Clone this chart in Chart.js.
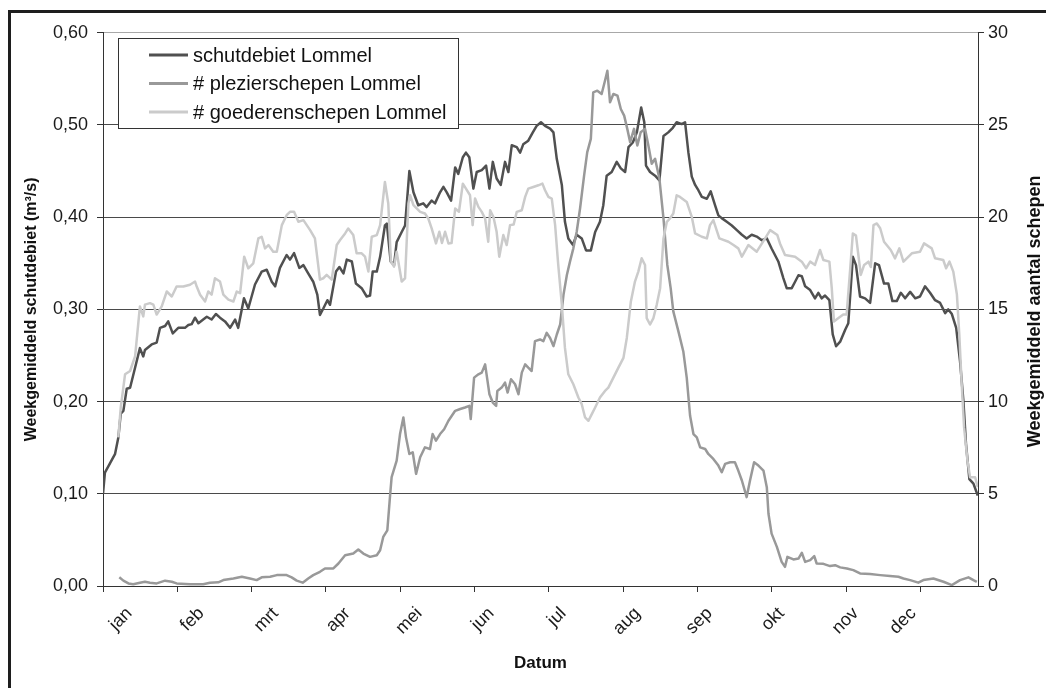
<!DOCTYPE html>
<html>
<head>
<meta charset="utf-8">
<script src="https://cdn.jsdelivr.net/npm/chart.js@4/dist/chart.umd.min.js"></script>
<style>
  html, body { margin: 0; padding: 0; background: #fff; }
  #kader {
    position: absolute; left: 8px; top: 10px;
    width: 1035px; height: 675px;
    border-top: 3px solid #1e1e1e; border-left: 3px solid #1e1e1e;
  }
  #kader canvas { display: block; }
</style>
</head>
<body>
<div id="kader"><canvas id="grafiek" width="1035" height="675"></canvas></div>
<script>
// Weekgemiddelden Lommel: schutdebiet (links) en aantal schepen (rechts)
// x-as = dag van het jaar (0..365)

const maanden = ['jan', 'feb', 'mrt', 'apr', 'mei', 'jun', 'jul', 'aug', 'sep', 'okt', 'nov', 'dec'];
const maandGrens = [0, 31, 62, 93, 124, 155, 186, 217, 248, 279, 310, 341];   // tick marks
const maandLabelDag = [11, 41, 72, 102, 132, 162, 192, 223, 253, 283, 314, 338];
const linksTicks = [0, 0.1, 0.2, 0.3, 0.4, 0.5, 0.6];
const rechtsTicks = [0, 5, 10, 15, 20, 25, 30];

// schutdebiet (m³/s)
const schutDag = [0,0.8,2.9,5.0,6.4,7.4,8.5,9.9,11.3,13.4,
  15.4,16.8,17.5,20.3,22.4,23.8,25.9,27.2,29.1,31.4,
  34.2,35.6,37.0,38.4,39.8,41.8,43.3,45.3,47.1,48.8,
  50.9,53.0,55.1,56.4,58.8,60.6,63.4,66.2,68.3,70.4,
  71.8,73.8,76.6,78.0,79.7,81.9,83.6,85.6,87.7,89.4,
  90.5,91.9,93.6,94.7,97.2,98.6,100.3,101.7,103.8,105.5,
  107.9,110.0,111.4,112.5,114.2,115.6,117.6,118.4,120.0,121.4,
  122.5,124.6,126.0,127.8,129.5,131.5,133.6,135.0,137.1,138.5,
  140.6,142.0,143.4,145.2,146.9,148.2,150.1,151.4,152.8,154.5,
  155.9,158.0,159.8,161.2,162.6,164.2,165.9,167.7,169.1,170.5,
  172.6,174.0,175.3,177.4,179.3,180.9,182.7,184.4,186.5,187.9,
  189.3,191.4,192.7,194.1,196.0,197.6,199.7,201.5,203.5,205.3,
  207.3,208.7,210.1,212.2,214.3,216.0,217.8,219.2,221.0,222.7,
  224.5,225.8,226.5,228.2,230.3,232.1,233.8,235.8,237.7,239.3,
  241.4,242.8,244.2,245.6,247.0,248.4,249.8,251.9,253.5,255.3,
  256.7,258.1,260.2,262.3,264.4,266.5,268.5,270.6,272.7,274.8,
  276.9,278.9,281.7,283.8,285.2,287.3,288.7,290.1,291.5,292.9,
  295.0,297.0,298.4,299.8,301.2,303.0,304.4,305.8,307.5,309.6,
  310.9,312.8,314.1,315.8,317.9,320.0,322.1,323.7,325.8,327.6,
  329.3,331.1,332.8,334.6,336.7,338.8,340.8,342.9,345.0,347.1,
  349.2,351.3,352.6,354.1,355.9,357.5,358.9,360.0,361.4,363.1,
  364.9];
const schutDebiet = [0.100,0.123,0.133,0.143,0.161,0.187,0.190,0.214,0.215,0.237,
  0.258,0.249,0.256,0.262,0.264,0.280,0.282,0.287,0.274,0.280,
  0.280,0.283,0.284,0.291,0.285,0.289,0.292,0.289,0.295,0.291,
  0.287,0.280,0.289,0.280,0.312,0.301,0.327,0.341,0.343,0.330,
  0.325,0.345,0.359,0.354,0.361,0.345,0.348,0.339,0.330,0.316,
  0.294,0.301,0.310,0.305,0.341,0.346,0.339,0.354,0.352,0.328,
  0.323,0.314,0.315,0.341,0.341,0.357,0.391,0.393,0.352,0.348,
  0.373,0.384,0.391,0.450,0.427,0.413,0.415,0.411,0.418,0.415,
  0.427,0.433,0.427,0.418,0.454,0.447,0.465,0.470,0.465,0.431,
  0.449,0.451,0.456,0.431,0.460,0.442,0.435,0.460,0.449,0.478,
  0.476,0.470,0.479,0.483,0.492,0.499,0.503,0.499,0.496,0.492,
  0.463,0.435,0.395,0.377,0.370,0.381,0.377,0.364,0.364,0.384,
  0.395,0.413,0.445,0.449,0.460,0.453,0.449,0.476,0.481,0.492,
  0.519,0.503,0.456,0.449,0.445,0.440,0.488,0.492,0.497,0.503,
  0.501,0.503,0.470,0.444,0.435,0.429,0.422,0.420,0.428,0.413,
  0.402,0.399,0.395,0.391,0.386,0.381,0.377,0.381,0.379,0.375,
  0.377,0.366,0.352,0.334,0.323,0.323,0.330,0.337,0.336,0.325,
  0.321,0.312,0.318,0.312,0.315,0.310,0.273,0.260,0.265,0.278,
  0.285,0.357,0.348,0.314,0.312,0.307,0.350,0.348,0.328,0.328,
  0.309,0.309,0.318,0.312,0.319,0.312,0.314,0.325,0.318,0.310,
  0.307,0.296,0.300,0.295,0.280,0.244,0.201,0.154,0.116,0.111,
  0.098];

// # plezierschepen
const plezDag = [6.8,8.5,10.6,12.6,15.4,17.5,19.6,22.4,25.9,28.7,
  30.7,36.3,41.8,44.6,48.1,50.2,54.4,57.9,61.3,64.1,
  66.2,69.7,72.5,76.6,78.7,80.8,83.3,85.6,87.7,90.5,
  92.6,96.1,98.2,101.0,104.4,106.5,108.6,111.4,114.2,115.6,
  116.9,118.6,119.7,120.4,122.5,123.9,125.3,126.4,127.8,129.2,
  130.6,132.3,134.3,136.4,137.5,138.9,140.6,142.3,144.1,146.9,
  149.0,151.0,152.8,153.4,154.8,156.6,158.0,159.4,160.0,161.2,
  162.6,164.0,164.5,166.3,167.7,168.8,170.2,171.9,173.3,174.7,
  176.1,177.4,178.8,180.2,182.3,183.7,185.1,186.5,187.9,189.3,
  190.7,192.1,193.5,194.8,196.2,197.6,199.0,200.7,202.0,203.5,
  204.5,206.2,208.0,209.4,210.4,211.5,212.9,214.6,216.0,217.4,
  218.7,219.9,221.5,222.9,224.3,226.1,227.5,228.9,230.3,232.1,
  233.8,235.4,236.8,237.9,240.0,242.1,243.5,244.9,246.3,247.7,
  249.1,251.2,252.5,254.6,256.7,258.1,259.5,261.6,263.6,265.0,
  266.5,268.5,269.9,271.6,273.4,275.5,276.9,277.6,278.9,281.1,
  283.1,284.5,285.5,288.0,290.1,291.5,292.9,295.0,296.7,297.7,
  300.5,303.3,305.4,307.5,310.3,313.0,315.8,320.0,324.2,328.3,
  331.8,333.9,336.7,340.1,342.2,346.4,350.6,354.1,357.5,361.0,
  363.1,364.5];
const plezAantal = [0.47,0.29,0.14,0.10,0.18,0.23,0.18,0.14,0.29,0.23,
  0.14,0.10,0.10,0.18,0.20,0.32,0.41,0.50,0.41,0.32,
  0.47,0.50,0.59,0.59,0.47,0.29,0.18,0.41,0.59,0.77,
  0.95,0.95,1.22,1.67,1.76,1.98,1.76,1.58,1.67,1.94,
  2.66,3.02,4.82,5.90,6.80,8.24,9.14,8.06,7.16,7.25,
  6.08,6.98,7.52,7.43,8.24,7.88,8.24,8.50,8.96,9.50,
  9.60,9.68,9.77,9.05,11.30,11.48,11.57,12.02,11.48,10.40,
  9.95,9.77,10.58,10.76,11.03,10.49,11.21,10.94,10.40,11.57,
  12.02,11.84,11.66,13.28,13.37,13.28,13.73,13.45,13.01,13.64,
  14.18,15.80,16.87,17.59,18.31,19.21,20.47,22.27,23.53,24.25,
  26.77,26.86,26.68,27.40,27.94,26.23,26.68,26.59,25.87,25.51,
  24.79,24.07,24.79,23.89,24.61,24.79,23.89,22.90,23.17,22.09,
  19.93,17.41,16.15,14.89,13.82,12.70,11.30,9.23,8.24,8.06,
  7.52,7.43,7.16,6.89,6.53,6.17,6.62,6.71,6.71,6.26,
  5.72,4.82,5.72,6.71,6.53,6.26,5.36,3.92,2.84,2.12,
  1.31,1.04,1.58,1.44,1.49,1.80,1.31,1.40,1.62,1.22,
  1.20,1.08,1.13,1.01,0.95,0.86,0.68,0.65,0.59,0.54,
  0.50,0.41,0.32,0.18,0.32,0.41,0.23,0.05,0.32,0.47,
  0.32,0.23];

// # goederenschepen
const goedDag = [6.4,7.4,9.2,11.3,13.4,15.4,16.8,17.5,19.6,21.0,
  22.4,24.5,26.6,28.7,30.7,33.5,36.3,38.4,39.1,40.5,
  42.6,43.9,45.3,46.7,48.8,50.2,52.3,54.4,55.8,57.2,
  58.9,60.6,62.7,64.8,66.2,67.6,69.0,71.0,72.5,74.6,
  76.6,78.0,79.7,81.5,83.6,86.4,88.4,90.5,91.9,93.3,
  95.4,97.5,98.9,101.0,102.3,104.4,105.8,107.9,109.3,110.7,
  112.1,114.2,115.6,117.6,119.0,120.1,121.4,122.5,124.6,126.0,
  127.4,128.1,129.5,132.3,134.3,135.7,137.1,138.9,140.3,141.4,
  142.7,144.1,145.4,146.9,148.5,150.1,151.4,153.1,154.2,155.2,
  156.6,158.0,159.4,160.7,161.5,162.9,164.2,165.3,167.0,168.4,
  169.8,171.3,172.6,174.7,176.1,177.4,179.5,181.6,183.3,184.4,
  185.8,187.2,188.6,189.9,191.4,192.7,194.1,196.2,198.3,199.7,
  201.1,202.5,203.9,205.3,207.3,209.4,210.8,212.9,215.0,217.1,
  218.5,220.2,221.9,223.3,224.7,226.1,226.8,228.2,229.6,231.0,
  232.4,233.8,235.2,236.5,237.9,239.3,240.7,243.5,245.6,247.0,
  249.8,251.9,253.2,254.6,257.1,260.9,263.0,265.0,266.5,269.2,
  272.7,276.2,278.3,281.3,282.4,284.5,288.7,291.5,293.3,295.0,
  297.0,299.1,300.5,303.0,304.0,304.9,306.8,308.8,310.2,311.6,
  312.8,314.1,315.1,316.1,317.5,319.3,320.3,321.4,322.8,324.2,
  325.8,328.6,330.4,332.2,333.9,337.4,340.8,342.5,345.7,347.1,
  350.5,351.7,353.1,354.7,356.2,357.2,358.2,359.2,360.6,361.7,
  363.8,364.9];
const goedAantal = [8.06,9.68,11.48,11.66,12.47,15.16,14.62,15.26,15.34,15.26,
  14.72,15.16,15.97,15.70,16.24,16.24,16.34,16.51,16.24,15.80,
  15.43,15.97,15.80,16.69,16.51,15.80,15.53,15.43,15.97,15.88,
  17.86,17.23,17.50,18.85,18.94,18.31,18.49,18.13,18.13,19.57,
  20.11,20.29,20.29,19.75,19.84,19.30,18.85,16.61,16.69,16.87,
  16.61,18.49,18.76,19.12,19.39,19.03,18.04,18.04,17.86,17.05,
  18.94,19.03,19.57,21.91,20.74,17.60,17.32,18.13,16.51,16.69,
  20.74,21.19,20.65,20.29,20.20,19.93,19.39,18.58,19.21,18.60,
  19.21,18.58,18.60,20.47,20.30,21.82,21.55,21.19,19.57,21.01,
  20.56,20.29,19.93,18.67,20.38,20.00,19.21,17.86,19.03,18.49,
  19.57,19.60,20.29,20.38,21.10,21.55,21.64,21.73,21.82,21.46,
  21.10,21.01,19.57,17.41,15.26,12.91,11.48,10.94,10.22,9.86,
  9.14,8.96,9.32,9.68,10.22,10.58,10.76,11.30,11.84,12.37,
  13.45,15.43,16.51,17.05,17.77,17.41,14.53,14.18,14.53,15.26,
  16.15,18.85,19.75,19.93,20.20,21.19,21.10,20.83,20.02,19.12,
  18.94,18.85,19.57,19.84,18.85,18.67,18.49,18.31,17.86,18.49,
  18.13,18.85,19.30,19.03,18.58,17.95,17.86,17.59,17.23,17.59,
  17.41,18.22,17.68,17.59,16.15,14.35,14.53,14.72,14.72,17.05,
  19.12,19.00,17.95,16.87,17.41,17.59,17.30,19.57,19.66,19.40,
  18.67,18.22,17.77,18.31,17.59,18.04,18.13,18.58,18.31,17.77,
  17.68,17.23,17.59,17.05,15.80,13.64,10.94,8.60,6.80,5.90,
  5.90,5.36];

const punten = (dagen, waarden) => dagen.map((d, i) => ({ x: d, y: waarden[i] }));

Chart.defaults.font.family = "'Liberation Sans', Arial, sans-serif";
Chart.defaults.color = '#1a1a1a';

// legende in een kader + titel van de rechter as (leest van onder naar boven)
const extraTekst = {
  id: 'extraTekst',
  afterDraw(chart) {
    const ctx = chart.ctx;
    const x0 = 107, y0 = 25, w = 340, h = 90;
    ctx.save();
    ctx.fillStyle = '#fff';
    ctx.fillRect(x0, y0, w, h);
    ctx.strokeStyle = '#333';
    ctx.lineWidth = 1;
    ctx.strokeRect(x0 + 0.5, y0 + 0.5, w, h);
    ctx.font = "20px 'Liberation Sans', Arial, sans-serif";
    ctx.textBaseline = 'middle';
    chart.data.datasets.forEach((ds, i) => {
      const y = y0 + 17 + i * 28.5;
      ctx.strokeStyle = ds.borderColor;
      ctx.lineWidth = 3;
      ctx.beginPath();
      ctx.moveTo(x0 + 31, y);
      ctx.lineTo(x0 + 70, y);
      ctx.stroke();
      ctx.fillStyle = '#111';
      ctx.fillText(ds.label, x0 + 75, y + 1);
    });

    const ca = chart.chartArea;
    ctx.translate(1024, (ca.top + ca.bottom) / 2 + 2);
    ctx.rotate(-Math.PI / 2);
    ctx.textAlign = 'center';
    ctx.font = "bold 18px 'Liberation Sans', Arial, sans-serif";
    ctx.fillStyle = '#111';
    ctx.fillText('Weekgemiddeld aantal schepen', 0, 0);
    ctx.restore();
  },
};

new Chart(document.getElementById('grafiek'), {
  type: 'line',
  data: {
    datasets: [
      {
        label: 'schutdebiet Lommel',
        data: punten(schutDag, schutDebiet),
        borderColor: '#505050',
        yAxisID: 'y',
        order: 2,
      },
      {
        label: '# plezierschepen Lommel',
        data: punten(plezDag, plezAantal),
        borderColor: '#999999',
        yAxisID: 'y1',
        order: 1,
      },
      {
        label: '# goederenschepen Lommel',
        data: punten(goedDag, goedAantal),
        borderColor: '#cbcbcb',
        yAxisID: 'y1',
        order: 0,
      },
    ],
  },
  options: {
    responsive: false,
    animation: false,
    layout: { padding: { top: 17, left: 0, right: 0, bottom: 0 } },
    elements: {
      line: { borderWidth: 2.5, tension: 0, borderJoinStyle: 'round', fill: false },
      point: { radius: 0, hoverRadius: 0 },
    },
    plugins: {
      legend: { display: false },
      tooltip: { enabled: false },
    },
    scales: {
      x: {
        type: 'linear',
        min: 0,
        max: 365,
        afterBuildTicks: s => {
          s.ticks = maandGrens.map(v => ({ value: v }))
            .concat(maandLabelDag.map(v => ({ value: v })));
        },
        afterFit: s => { s.height = 102; },
        ticks: {
          autoSkip: false,
          minRotation: 45,
          maxRotation: 45,
          padding: 11,
          font: { size: 18 },
          callback: (v, i) => (i >= maandGrens.length ? maanden[i - maandGrens.length] : ''),
        },
        grid: {
          drawOnChartArea: false,
          tickLength: 6,
          tickColor: c => (c.index < maandGrens.length ? '#333' : 'rgba(0,0,0,0)'),
        },
        border: { color: '#333' },
        title: {
          display: true,
          text: 'Datum',
          font: { size: 17, weight: 'bold' },
          color: '#111',
          padding: { top: 0, bottom: 14 },
        },
      },
      y: {
        position: 'left',
        min: 0,
        max: 0.6,
        afterBuildTicks: s => { s.ticks = linksTicks.map(v => ({ value: v })); },
        afterFit: s => { s.width = 92; },
        ticks: {
          padding: 9,
          font: { size: 18 },
          callback: v => v.toFixed(2).replace('.', ','),
        },
        grid: {
          color: c => (c.tick && c.tick.value > 0.55 ? '#a8a8a8' : '#4a4a4a'),
          tickLength: 6,
          tickColor: '#333',
        },
        border: { color: '#333' },
        title: {
          display: true,
          text: 'Weekgemiddeld schutdebiet (m³/s)',
          font: { size: 16, weight: 'bold' },
          color: '#111',
          padding: { top: 11, bottom: 0 },
        },
      },
      y1: {
        position: 'right',
        min: 0,
        max: 30,
        afterBuildTicks: s => { s.ticks = rechtsTicks.map(v => ({ value: v })); },
        afterFit: s => { s.width = 68; },
        ticks: { padding: 4, font: { size: 18 } },
        grid: { drawOnChartArea: false, tickLength: 6, tickColor: '#333' },
        border: { color: '#333' },
      },
    },
  },
  plugins: [extraTekst],
});
</script>
</body>
</html>
